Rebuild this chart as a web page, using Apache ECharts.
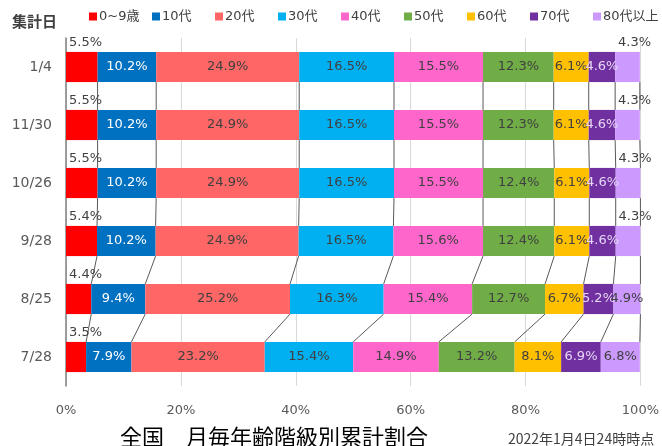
<!DOCTYPE html>
<html>
<head>
<meta charset="utf-8">
<script src="https://cdn.jsdelivr.net/npm/echarts@6/dist/echarts.min.js"></script>
<style>
  html, body { margin: 0; padding: 0; background: #fff; }
  #chart { width: 662px; height: 446px; }
</style>
</head>
<body>
<div id="chart"></div>
<script>
// 集計日 (top to bottom)
const categories = ['1/4', '11/30', '10/26', '9/28', '8/25', '7/28'];
const ageGroups = ['0~9歳', '10代', '20代', '30代', '40代', '50代', '60代', '70代', '80代以上'];
const xTicks = [0, 20, 40, 60, 80, 100];

const age0to9 = [5.5, 5.5, 5.5, 5.4, 4.4, 3.5];
const age10s = [10.2, 10.2, 10.2, 10.2, 9.4, 7.9];
const age20s = [24.9, 24.9, 24.9, 24.9, 25.2, 23.2];
const age30s = [16.5, 16.5, 16.5, 16.5, 16.3, 15.4];
const age40s = [15.5, 15.5, 15.5, 15.6, 15.4, 14.9];
const age50s = [12.3, 12.3, 12.4, 12.4, 12.7, 13.2];
const age60s = [6.1, 6.1, 6.1, 6.1, 6.7, 8.1];
const age70s = [4.6, 4.6, 4.6, 4.6, 5.2, 6.9];
const age80plus = [4.3, 4.3, 4.3, 4.3, 4.9, 6.8];

const seriesValues = [age0to9, age10s, age20s, age30s, age40s, age50s, age60s, age70s, age80plus];
const colors = ['#FF0000', '#0070C0', '#FF6666', '#00B0F0', '#FF66CC', '#70AD47', '#FFC000', '#7030A0', '#CC99FF'];
const labelColors = ['#404040', '#ffffff', '#404040', '#404040', '#404040', '#404040', '#404040', '#e6d6f5', '#404040'];

const FONT = 'DejaVu Sans, Noto Sans CJK JP, sans-serif';
const BAR_RATIO = 0.52;

const chart = echarts.init(document.getElementById('chart'));

const fmt = p => Number(p.value).toFixed(1) + '%';

const barSeries = ageGroups.map((name, s) => {
  let data = seriesValues[s].slice();
  let label = {
    show: true,
    formatter: fmt,
    color: labelColors[s],
    fontFamily: FONT,
    fontSize: 13
  };
  if (s === 0) {
    // first group label sits above the bar, left aligned
    label = Object.assign(label, { position: [3, -9], align: 'left', verticalAlign: 'middle' });
  }
  if (s === ageGroups.length - 1) {
    // small slices in the first rows put the label above the bar
    data = data.map((v, i) => i < 4
      ? { value: v, label: { position: 'top', distance: 3, offset: [7, 0] } }
      : v);
  }
  return {
    name: name,
    type: 'bar',
    stack: 'total',
    barWidth: (BAR_RATIO * 100) + '%',
    itemStyle: { color: colors[s] },
    label: label,
    emphasis: { disabled: true },
    data: data,
    z: 3
  };
});

// series lines between neighbouring bars
const cumulative = categories.map((c, i) => {
  let acc = 0;
  return seriesValues.map(arr => { acc += arr[i]; return Math.min(acc, 100); });
});
const linkData = [];
for (let i = 0; i < categories.length - 1; i++) {
  for (let k = 0; k < seriesValues.length; k++) {
    linkData.push([cumulative[i][k], i, cumulative[i + 1][k], i + 1]);
  }
}

const linkSeries = {
  type: 'custom',
  silent: true,
  z: 2,
  renderItem: (params, api) => {
    const a = api.coord([api.value(0), api.value(1)]);
    const b = api.coord([api.value(2), api.value(3)]);
    const h = api.size([0, 1])[1] * BAR_RATIO / 2;
    return {
      type: 'line',
      shape: { x1: a[0], y1: a[1] + h, x2: b[0], y2: b[1] - h },
      style: { stroke: '#595959', lineWidth: 1 }
    };
  },
  encode: { x: [0, 2], y: [1, 3] },
  data: linkData
};

// one legend per entry so the spacing is even, like the excel legend
const legends = ageGroups.map((name, i) => ({
  data: [name],
  left: 89 + i * 63,
  top: 10,
  padding: 0,
  icon: 'rect',
  itemWidth: 8,
  itemHeight: 8,
  selectedMode: false,
  textStyle: { fontFamily: FONT, fontSize: 13, color: '#404040', padding: [0, 0, 0, -3] }
}));

const option = {
  animation: false,
  color: colors,
  title: [
    { text: '集計日', left: 7, top: 9,
      textStyle: { fontFamily: 'Noto Sans CJK JP', fontSize: 15, fontWeight: 'bold', color: '#404040' } },
    { text: '全国　月毎年齢階級別累計割合', left: 115, top: 421,
      textStyle: { fontFamily: 'Noto Sans CJK JP', fontSize: 22, fontWeight: 'normal', color: '#000' } },
    { text: '2022年1月4日24時時点', left: 503, top: 427,
      textStyle: { fontFamily: 'Noto Sans CJK JP', fontSize: 14, fontWeight: 'normal', color: '#404040' } }
  ],
  legend: legends,
  grid: { left: 66, right: 21, top: 38, bottom: 60, containLabel: false },
  xAxis: {
    type: 'value',
    min: xTicks[0],
    max: xTicks[xTicks.length - 1],
    interval: xTicks[1] - xTicks[0],
    axisLine: { show: false },
    axisTick: { show: false },
    splitLine: { lineStyle: { color: '#d9d9d9' } },
    axisLabel: { formatter: '{value}%', margin: 18, color: '#595959', fontFamily: FONT, fontSize: 13 }
  },
  yAxis: {
    type: 'category',
    inverse: true,
    data: categories,
    axisLine: { show: true, lineStyle: { color: '#808080', width: 1.5 } },
    axisTick: { show: false },
    axisLabel: { margin: 14, color: '#595959', fontFamily: FONT, fontSize: 14 }
  },
  series: barSeries.concat([linkSeries])
};

chart.setOption(option);
</script>
</body>
</html>
